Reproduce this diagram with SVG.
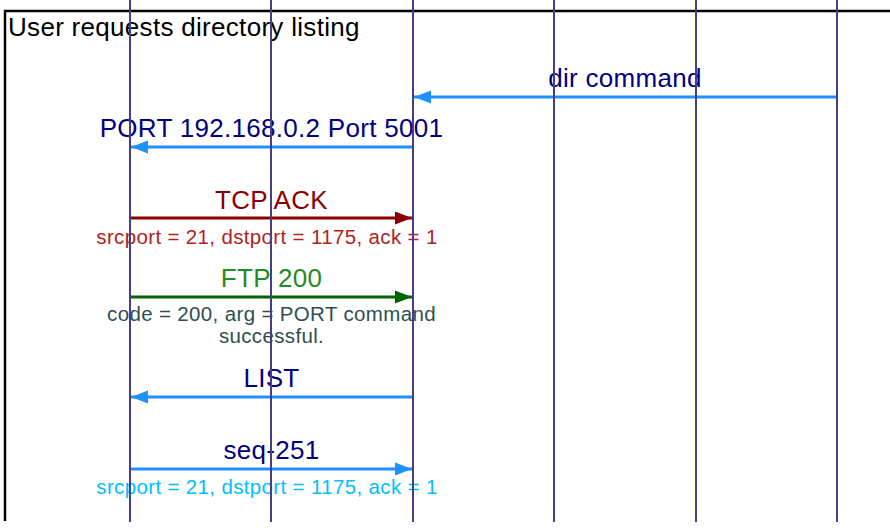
<svg xmlns="http://www.w3.org/2000/svg" width="890" height="529" viewBox="0 0 890 529">
  <style>
    text { font-family: "Liberation Sans", Arial, sans-serif; }
    .big { font-size: 26px; letter-spacing: 0.3px; }
    .small { font-size: 20.5px; letter-spacing: 0.35px; }
    .mid { text-anchor: middle; }
    .life { stroke: #483d8b; stroke-width: 2; }
    .frame { stroke: #000; stroke-width: 2.5; fill: none; }
    .msg { stroke-width: 3; fill: none; }
  </style>
  <defs>
    <marker id="ah-blue" markerUnits="userSpaceOnUse" markerWidth="18" markerHeight="14" refX="17" refY="7" orient="auto">
      <polygon points="0,0.5 17,7 0,13.5" fill="#1e90ff"/>
    </marker>
    <marker id="ah-red" markerUnits="userSpaceOnUse" markerWidth="18" markerHeight="14" refX="17" refY="7" orient="auto">
      <polygon points="0,0.5 17,7 0,13.5" fill="#8b0000"/>
    </marker>
    <marker id="ah-green" markerUnits="userSpaceOnUse" markerWidth="18" markerHeight="14" refX="17" refY="7" orient="auto">
      <polygon points="0,0.5 17,7 0,13.5" fill="#006400"/>
    </marker>
  </defs>

  <g id="frame">
    <polyline class="frame" points="5,521 5,11 890,11"/>
    <text x="8" y="36" class="big" fill="#000">User requests directory listing</text>
  </g>

  <g id="connectors">
    <g id="msg-dir">
      <line class="msg" x1="837" y1="97" x2="414" y2="97" stroke="#1e90ff" marker-end="url(#ah-blue)"/>
      <text x="625" y="87" class="big mid" fill="#000080">dir command</text>
    </g>
    <g id="msg-port">
      <line class="msg" x1="413" y1="147" x2="131" y2="147" stroke="#1e90ff" marker-end="url(#ah-blue)"/>
      <text x="271.5" y="137" class="big mid" fill="#000080">PORT 192.168.0.2 Port 5001</text>
    </g>
    <g id="msg-tcpack">
      <line class="msg" x1="130" y1="218" x2="412" y2="218" stroke="#8b0000" marker-end="url(#ah-red)"/>
      <text x="271.5" y="209" class="big mid" fill="#8b0000">TCP ACK</text>
      <text x="267" y="244" class="small mid" fill="#b22222">srcport = 21, dstport = 1175, ack = 1</text>
    </g>
    <g id="msg-ftp200">
      <line class="msg" x1="130" y1="297" x2="412" y2="297" stroke="#006400" marker-end="url(#ah-green)"/>
      <text x="271.5" y="287" class="big mid" fill="#228b22">FTP 200</text>
      <text x="271.5" y="321" class="small mid" fill="#2f4f4f">code = 200, arg = PORT command</text>
      <text x="271.5" y="343" class="small mid" fill="#2f4f4f">successful.</text>
    </g>
    <g id="msg-list">
      <line class="msg" x1="413" y1="397" x2="131" y2="397" stroke="#1e90ff" marker-end="url(#ah-blue)"/>
      <text x="271.5" y="387" class="big mid" fill="#000080">LIST</text>
    </g>
    <g id="msg-seq251">
      <line class="msg" x1="130" y1="469" x2="412" y2="469" stroke="#1e90ff" marker-end="url(#ah-blue)"/>
      <text x="271.5" y="459" class="big mid" fill="#000080">seq-251</text>
      <text x="267" y="494" class="small mid" fill="#00bfff">srcport = 21, dstport = 1175, ack = 1</text>
    </g>
  </g>

  <g id="lifeline-1"><line class="life" x1="130" y1="0" x2="130" y2="522"/></g>
  <g id="lifeline-2"><line class="life" x1="271" y1="0" x2="271" y2="522"/></g>
  <g id="lifeline-3"><line class="life" x1="413" y1="0" x2="413" y2="522"/></g>
  <g id="lifeline-4"><line class="life" x1="554" y1="0" x2="554" y2="522"/></g>
  <g id="lifeline-5"><line class="life" x1="696" y1="0" x2="696" y2="522"/></g>
  <g id="lifeline-6"><line class="life" x1="837" y1="0" x2="837" y2="522"/></g>
</svg>
